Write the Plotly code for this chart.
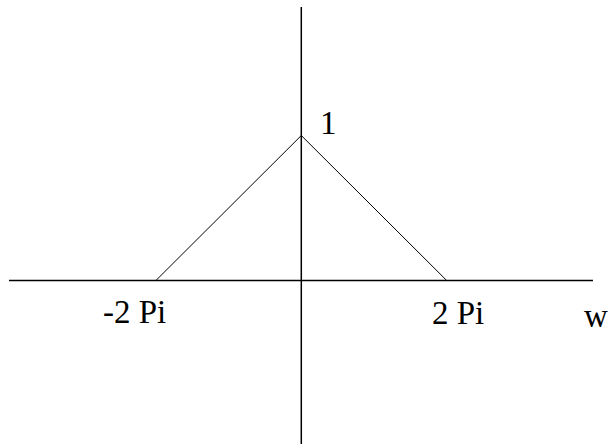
import numpy as np
import plotly.graph_objects as go

pi = np.pi

# triangle: 1 - |w| / (2 Pi) on [-2 Pi, 2 Pi]
w = [-2 * pi, 0, 2 * pi]
h = [0, 1, 0]

# axis extents (data units)
w_axis = [-4.02 * pi, 4.012 * pi]
h_axis = [-1.128, 1.886]

labels = ["1", "-2 Pi", "2 Pi", "w"]
label_x = [0.374 * pi, -2.294 * pi, 2.149 * pi, 4.05 * pi]
label_y = [1.083, -0.217, -0.224, -0.245]

fig = go.Figure()

# axes drawn as plain lines
fig.add_trace(go.Scatter(x=w_axis, y=[0, 0], mode="lines",
                         line=dict(color="black", width=1.5), hoverinfo="skip"))
fig.add_trace(go.Scatter(x=[0, 0], y=h_axis, mode="lines",
                         line=dict(color="black", width=1.5), hoverinfo="skip"))

fig.add_trace(go.Scatter(x=w, y=h, mode="lines",
                         line=dict(color="black", width=1)))

for t, x, y in zip(labels, label_x, label_y):
    fig.add_annotation(x=x, y=y, text=t, showarrow=False,
                       xanchor="center", yanchor="middle",
                       font=dict(family="Liberation Serif, Times New Roman, serif",
                                 size=33, color="black"))

fig.update_layout(
    width=609, height=448,
    margin=dict(l=0, r=0, t=0, b=0),
    paper_bgcolor="white", plot_bgcolor="white",
    showlegend=False,
    xaxis=dict(range=[-4.1444 * pi, 4.2325 * pi], visible=False, fixedrange=True),
    yaxis=dict(range=[-1.1552, 1.9345], visible=False, fixedrange=True),
)

fig.write_html("out.html", config={"displayModeBar": False},
               post_script="document.body.style.margin='0';")
